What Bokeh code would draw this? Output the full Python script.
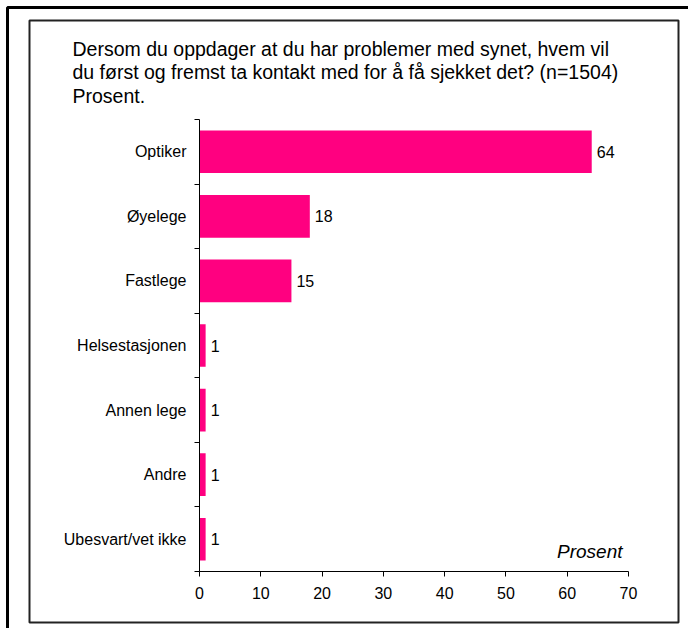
from bokeh.plotting import figure
from bokeh.models import ColumnDataSource, Range1d, FixedTicker, Label, BoxAnnotation
from bokeh.core.properties import value
from bokeh.embed import file_html
from bokeh.resources import INLINE

# ---- data ----
categories = ["Optiker", "Øyelege", "Fastlege", "Helsestasjonen", "Annen lege", "Andre", "Ubesvart/vet ikke"]
values = [64, 18, 15, 1, 1, 1, 1]
x_ticks = [0, 10, 20, 30, 40, 50, 60, 70]
title_lines = [
    "Dersom du oppdager at du har problemer med synet, hvem vil",
    "du først og fremst ta kontakt med for å få sjekket det? (n=1504)",
    "Prosent.",
]
unit_label = "Prosent"

FONT = "Liberation Sans"
BAR = "#FF0080"

# ---- layout (pixels on the canvas) ----
W, H = 688, 628
AX_L, AX_R = 199, 628      # x=0 and x=70 positions
AX_T, AX_B = 119, 571      # top / bottom of category area

n = len(categories)
xmin, xmax = x_ticks[0], x_ticks[-1]
sx = (AX_R - AX_L) / (xmax - xmin)
sy = (AX_B - AX_T) / n
x_range = Range1d(xmin - AX_L / sx, xmax + (W - AX_R) / sx)
y_range = Range1d(0 - (H - AX_B) / sy, n + AX_T / sy)

ypos = [n - 1 - i + 0.5 for i in range(n)]
src = ColumnDataSource(dict(cat=categories, val=values, y=ypos, lab=[str(v) for v in values]))

p = figure(width=W, height=H, output_backend="svg", toolbar_location=None,
           x_range=x_range, y_range=y_range,
           min_border=0, min_border_left=0, min_border_right=0, min_border_top=0, min_border_bottom=0)
p.outline_line_color = None
p.xgrid.grid_line_color = None
p.ygrid.grid_line_color = None
p.background_fill_color = "white"
p.border_fill_color = "white"

p.hbar(y="y", right="val", left=0, height=0.66, source=src, fill_color=BAR, line_color=None)
p.text(x="val", y="y", text="lab", source=src, x_offset=5, text_baseline="middle",
       text_align="left", text_font=value(FONT), text_font_size="16px", text_color="black")

# x axis
xa = p.xaxis[0]
xa.fixed_location = 0
xa.bounds = (xmin, xmax)
xa.ticker = FixedTicker(ticks=x_ticks)
xa.axis_line_color = "black"
xa.major_tick_line_color = "black"
xa.major_tick_out = 5
xa.major_tick_in = 0
xa.minor_tick_line_color = None
xa.major_label_text_font = FONT
xa.major_label_text_font_size = "16px"
xa.major_label_text_color = "black"
xa.major_label_standoff = 10

# y axis (category labels at centers, tick marks at boundaries)
ya = p.yaxis[0]
ya.fixed_location = 0
ya.bounds = (0, n)
ya.ticker = FixedTicker(ticks=ypos, minor_ticks=list(range(n + 1)))
ya.major_label_overrides = {y: c for y, c in zip(ypos, categories)}
ya.axis_line_color = "black"
ya.major_tick_line_color = None
ya.major_tick_out = 0
ya.major_tick_in = 0
ya.minor_tick_line_color = "black"
ya.minor_tick_out = 5
ya.minor_tick_in = 0
ya.major_label_text_font = FONT
ya.major_label_text_font_size = "16px"
ya.major_label_text_color = "black"
ya.major_label_standoff = 8

# title
p.add_layout(Label(x=72, y=37, x_units="canvas", y_units="canvas", text="\n".join(title_lines),
                   text_font=FONT, text_font_size="19.5px", text_baseline="top",
                   text_align="left", text_color="black", text_line_height=1.07))
# unit label
p.add_layout(Label(x=622, y=551, x_units="canvas", y_units="canvas", text=unit_label,
                   text_font=FONT, text_font_size="19px", text_font_style="italic",
                   text_baseline="middle", text_align="right", text_color="black"))

# frames
p.add_layout(BoxAnnotation(left=29, right=678, top=20, bottom=622,
                           left_units="canvas", right_units="canvas", top_units="canvas", bottom_units="canvas",
                           fill_alpha=0, line_color="#222222", line_alpha=1, line_width=2))
p.add_layout(BoxAnnotation(left=7, right=900, top=7, bottom=900,
                           left_units="canvas", right_units="canvas", top_units="canvas", bottom_units="canvas",
                           fill_alpha=0, line_color="black", line_alpha=1, line_width=3))

open("out.html", "w").write(file_html(p, INLINE))
